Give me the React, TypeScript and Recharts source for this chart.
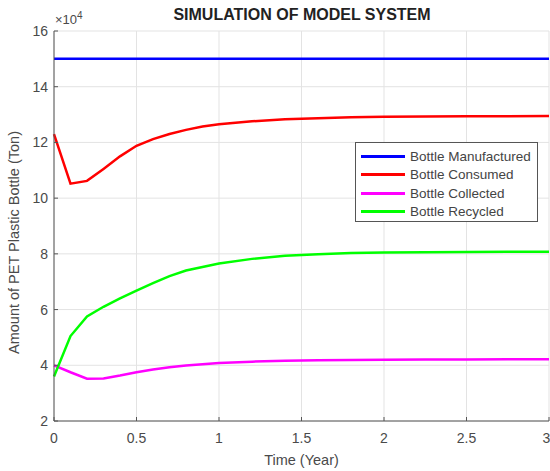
import React from 'react';
import { LineChart, Line, XAxis, YAxis, CartesianGrid } from 'recharts';

const time = [0, 0.1, 0.2, 0.3, 0.4, 0.5, 0.6, 0.7, 0.8, 0.9, 1.0, 1.2, 1.4, 1.6, 1.8, 2.0, 2.25, 2.5, 2.75, 3.0];
const manufactured = [150000, 150000, 150000, 150000, 150000, 150000, 150000, 150000, 150000, 150000, 150000, 150000, 150000, 150000, 150000, 150000, 150000, 150000, 150000, 150000];
const consumed = [123000, 105200, 106200, 110500, 115000, 118800, 121200, 123000, 124500, 125700, 126500, 127600, 128300, 128700, 129000, 129200, 129300, 129400, 129400, 129500];
const collected = [40000, 37500, 35200, 35300, 36300, 37500, 38500, 39300, 39900, 40400, 40800, 41300, 41600, 41800, 41900, 42000, 42100, 42100, 42200, 42200];
const recycled = [36000, 50500, 57500, 61000, 64000, 66800, 69500, 72000, 74000, 75300, 76500, 78200, 79300, 79900, 80300, 80500, 80600, 80700, 80800, 80800];

const xTicks = [0, 0.5, 1, 1.5, 2, 2.5, 3];
const yTicks = [20000, 40000, 60000, 80000, 100000, 120000, 140000, 160000];

const series = [
  { key: 'manufactured', name: 'Bottle Manufactured', color: '#0000ff' },
  { key: 'consumed', name: 'Bottle Consumed', color: '#ff0000' },
  { key: 'collected', name: 'Bottle Collected', color: '#ff00ff' },
  { key: 'recycled', name: 'Bottle Recycled', color: '#00ff00' },
];

const data = time.map((t, i) => ({
  t,
  manufactured: manufactured[i],
  consumed: consumed[i],
  collected: collected[i],
  recycled: recycled[i],
}));

const font = '"Liberation Sans", Arial, sans-serif';
const textColor = '#4a4a4a';

const LegendBox = () => (
  <div
    style={{
      position: 'absolute',
      left: 355,
      top: 142,
      width: 183,
      height: 80,
      boxSizing: 'border-box',
      background: '#fff',
      border: '1px solid #555',
      padding: '4px 5px',
      fontFamily: font,
      fontSize: 13.5,
      color: '#444',
    }}
  >
    {series.map((s) => (
      <div key={s.key} style={{ display: 'flex', alignItems: 'center', height: 18.5 }}>
        <div style={{ width: 44, height: 3, background: s.color, marginRight: 5 }} />
        <span>{s.name}</span>
      </div>
    ))}
  </div>
);

const App = () => {
  return (
    <div style={{ position: 'absolute', left: 0, top: 0, width: 550, height: 471, background: '#fff', fontFamily: font }}>
      <LineChart width={550} height={471} data={data} margin={{ top: 31, right: 1, left: 0, bottom: 0 }}>
        <CartesianGrid stroke="#e3e3e3" vertical horizontal />
        <XAxis
          dataKey="t"
          type="number"
          domain={[0, 3]}
          ticks={xTicks}
          height={50}
          stroke="#555"
          tick={{ fill: textColor, fontSize: 14, fontFamily: font }}
          tickSize={-4}
          tickMargin={16}
          label={{ value: 'Time (Year)', position: 'insideBottom', offset: 6, fill: textColor, fontSize: 14.5, fontFamily: font }}
        />
        <XAxis xAxisId="top" orientation="top" dataKey="t" type="number" domain={[0, 3]} ticks={xTicks} tick={false} height={0} stroke="#999" tickSize={-4} />
        <YAxis
          type="number"
          domain={[20000, 160000]}
          ticks={yTicks}
          width={54}
          stroke="#555"
          tickSize={-4}
          tickMargin={10}
          tickFormatter={(v: number) => String(v / 10000)}
          tick={{ fill: textColor, fontSize: 14, fontFamily: font }}
          label={{ value: 'Amount of PET Plastic Bottle (Ton)', angle: -90, position: 'insideLeft', offset: 14, dy: 128, fill: textColor, fontSize: 14.5, fontFamily: font }}
        />
        <YAxis yAxisId="right" orientation="right" type="number" domain={[20000, 160000]} ticks={yTicks} tick={false} width={0} stroke="#999" tickSize={-4} />
        {series.map((s) => (
          <Line
            key={s.key}
            type="linear"
            dataKey={s.key}
            name={s.name}
            stroke={s.color}
            strokeWidth={2.5}
            dot={false}
            isAnimationActive={false}
          />
        ))}
      </LineChart>
      <div
        style={{
          position: 'absolute',
          left: 0,
          width: 604,
          top: 6,
          textAlign: 'center',
          fontWeight: 'bold',
          fontSize: 16,
          color: '#222',
        }}
      >
        SIMULATION OF MODEL SYSTEM
      </div>
      <div style={{ position: 'absolute', left: 55, top: 10, fontSize: 13, color: textColor }}>
        ×10<sup style={{ fontSize: 10 }}>4</sup>
      </div>
      <LegendBox />
    </div>
  );
};

export default App;
